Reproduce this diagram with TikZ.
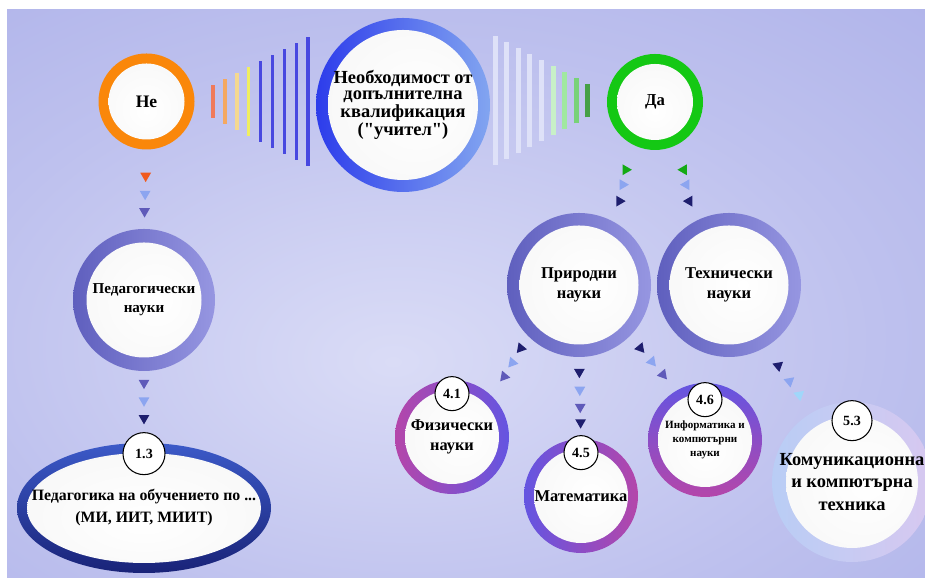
\documentclass[tikz,border=0pt]{standalone}
\usepackage{fontspec}
\setmainfont{Liberation Serif}[Ligatures=TeXOff]
\usepackage{xcolor}
\definecolor{bglight}{RGB}{218, 220, 246}
\definecolor{bgmid}{RGB}{190, 193, 238}
\definecolor{bgdark}{RGB}{158, 163, 229}
\definecolor{inwhite}{RGB}{244, 244, 244}
\definecolor{inshadow}{RGB}{110, 110, 115}
\definecolor{ringorange}{RGB}{250, 135, 10}
\definecolor{ringblue}{RGB}{45, 60, 235}
\definecolor{ringsky}{RGB}{130, 165, 240}
\definecolor{ringgreen}{RGB}{20, 200, 20}
\definecolor{ringslate}{RGB}{95, 95, 190}
\definecolor{ringlav}{RGB}{150, 150, 225}
\definecolor{ringnavy}{RGB}{25, 35, 120}
\definecolor{ringroyal}{RGB}{60, 90, 200}
\definecolor{ringmagenta}{RGB}{180, 70, 170}
\definecolor{ringviolet}{RGB}{100, 85, 225}
\definecolor{ringpale}{RGB}{185, 205, 245}
\definecolor{ringlilac}{RGB}{215, 200, 240}
\definecolor{barsalmon}{RGB}{240, 122, 90}
\definecolor{barorange}{RGB}{244, 168, 96}
\definecolor{barpale}{RGB}{244, 216, 144}
\definecolor{baryellow}{RGB}{240, 238, 96}
\definecolor{barblue}{RGB}{72, 72, 224}
\definecolor{barwhite}{RGB}{222, 225, 248}
\definecolor{barmint}{RGB}{200, 240, 200}
\definecolor{barlgreen}{RGB}{160, 232, 160}
\definecolor{bargreen}{RGB}{120, 210, 120}
\definecolor{bardgreen}{RGB}{70, 160, 70}
\definecolor{triorange}{RGB}{240, 90, 30}
\definecolor{trisky}{RGB}{140, 165, 240}
\definecolor{triviolet}{RGB}{95, 90, 185}
\definecolor{trinavy}{RGB}{30, 30, 110}
\definecolor{trigreen}{RGB}{20, 170, 20}
\definecolor{tricyan}{RGB}{160, 215, 250}
\usepackage{tikz}
\usetikzlibrary{calc, shapes.geometric}

\pgfdeclareradialshading{bgshade}{\pgfpoint{-4bp}{-6bp}}{color(0bp)=(bglight); color(25bp)=(bgmid); color(60bp)=(bgdark); color(80bp)=(bgdark)}
\pgfdeclareradialshading{innershade}{\pgfpoint{0bp}{-5bp}}{color(0bp)=(white); color(40bp)=(inwhite); color(47bp)=(inwhite); color(57bp)=(inshadow); color(60bp)=(inshadow)}

\tikzset{
  ringw/.store in=\ringw, ringw=0.2cm,
  ring/.style={inner sep=0pt, align=center, font=\bfseries,
    path picture={
      \shade[shading=innershade] let \p1=($(path picture bounding box.north east)-(path picture bounding box.center)$) in
        (path picture bounding box.center) ellipse [x radius=\x1-\ringw, y radius=\y1-\ringw];
    }},
  bubble/.style={ring, circle, minimum size=#1},
  oval/.style={ring, ellipse, inner xsep=-0.6cm, minimum width=5.08cm, minimum height=2.6cm},
  badge/.style={circle, draw=black, line width=0.6pt, fill=white, minimum size=#1, inner sep=0pt,
    font=\bfseries\fontsize{8}{8}\selectfont},
  tri/.style={regular polygon, regular polygon sides=3, fill=#1, inner sep=0pt, minimum size=0.25cm}
}

\begin{document}
\begin{tikzpicture}
    \useasboundingbox (0,0) rectangle (18.5,11.56);
    \fill[white] (0,0) rectangle (18.5,11.56);
    \shade[shading=bgshade] (0.14,0) rectangle (18.5,11.36);

    % bars left and right of the question
    \foreach \c [count=\i from 0] in {barsalmon,barorange,barpale,baryellow,barblue,barblue,barblue,barblue,barblue}
        \draw[\c, line width=0.07cm] (4.26+0.238*\i, 9.2-0.12*\i) -- (4.26+0.238*\i, 9.86+0.12*\i);
    \foreach \c [count=\j from 0] in {barwhite,barwhite,barwhite,barwhite,barwhite,barmint,barlgreen,bargreen,bardgreen}
        \draw[\c, line width=0.1cm] (9.9+0.232*\j, 8.25+0.12*\j) -- (9.9+0.232*\j, 10.83-0.12*\j);

    \node[bubble=1.92cm, fill=ringorange, font=\bfseries\fontsize{10}{10}\selectfont] (ne) at (2.93,9.53) {Не};
    \node[bubble=3.48cm, ringw=0.24cm, left color=ringblue, right color=ringsky,
        font=\bfseries\fontsize{10.5}{9}\selectfont] (need) at (8.06,9.46)
        {Необходимост от\\допълнителна\\квалификация\\("учител")};
    \node[bubble=1.92cm, fill=ringgreen, font=\bfseries\fontsize{9.5}{10}\selectfont] (da) at (13.10,9.52) {Да};

    \node[bubble=2.84cm, ringw=0.27cm, left color=ringslate, right color=ringlav,
        font=\bfseries\fontsize{8.6}{10.8}\selectfont] (ped) at (2.88,5.56) {Педагогически\\науки};
    \node[oval, top color=ringroyal, bottom color=ringnavy,
        font=\bfseries\fontsize{9}{12.5}\selectfont] (ped13) at (2.88,1.40)
        {Педагогика на обучението по ...\\(МИ, ИИТ, МИИТ)};

    \node[bubble=2.88cm, ringw=0.25cm, left color=ringslate, right color=ringlav,
        font=\bfseries\fontsize{9.4}{11.3}\selectfont] (prir) at (11.58,5.86) {Природни\\науки};
    \node[bubble=2.88cm, ringw=0.25cm, left color=ringslate, right color=ringlav,
        font=\bfseries\fontsize{9.4}{11.3}\selectfont] (tech) at (14.58,5.86) {Технически\\науки};

    \node[bubble=2.28cm, left color=ringmagenta, right color=ringviolet,
        font=\bfseries\fontsize{9.3}{11.3}\selectfont] (fiz) at (9.04,2.82) {Физически\\науки};
    \node[bubble=2.28cm, left color=ringviolet, right color=ringmagenta,
        font=\bfseries\fontsize{9.4}{11}\selectfont] (mat) at (11.62,1.64) {Математика};
    \node[bubble=2.28cm, top color=ringviolet, bottom color=ringmagenta,
        font=\bfseries\fontsize{6.3}{7.8}\selectfont] (inf) at (14.10,2.76) {Информатика и\\компютърни\\науки};
    \node[bubble=3.2cm, ringw=0.28cm, left color=ringpale, right color=ringlilac,
        font=\bfseries\fontsize{10.5}{13}\selectfont] (kom) at (17.04,1.92) {Комуникационна\\и компютърна\\техника};

    % code badges
    \node[badge=0.84cm] (b13) at ($(ped13.north)+(0,-0.22)$) {1.3};
    \node[badge=0.68cm] (b41) at ($(fiz.north)+(0,-0.28)$) {4.1};
    \node[badge=0.68cm] (b45) at ($(mat.north)+(0,-0.28)$) {4.5};
    \node[badge=0.68cm] (b46) at ($(inf.north)+(0,-0.34)$) {4.6};
    \node[badge=0.8cm] (b53) at ($(kom.north)+(0,-0.38)$) {5.3};

    % dotted arrow trails
    \foreach \p/\c in {0.33/triorange, 0.56/trisky, 0.78/triviolet}
        \node[tri=\c, rotate=180] at ($(ne.south)!\p!(ped.north)$) {};
    \foreach \p/\c in {0.19/triviolet, 0.48/trisky, 0.77/trinavy}
        \node[tri=\c, rotate=180] at ($(ped.south)!\p!(b13.north)$) {};
    \foreach \p/\c in {0.33/trigreen, 0.52/trisky, 0.73/trinavy}
        \node[tri=\c, rotate=-90] at ($(da.240)!\p!(prir.60)$) {};
    \foreach \p/\c in {0.33/trigreen, 0.52/trisky, 0.73/trinavy}
        \node[tri=\c, rotate=90] at ($(da.300)!\p!(tech.120)$) {};
    \foreach \p/\c in {0.2/trinavy, 0.44/trisky, 0.67/triviolet}
        \node[tri=\c, rotate=-100] at ($(prir.225)!\p!(fiz.45)$) {};
    \foreach \p/\c in {0.18/trinavy, 0.4/trisky, 0.61/triviolet, 0.8/trinavy}
        \node[tri=\c, rotate=180] at ($(prir.south)!\p!(mat.north)$) {};
    \foreach \p/\c in {0.22/trinavy, 0.47/trisky, 0.71/triviolet}
        \node[tri=\c, rotate=100] at ($(prir.315)!\p!(inf.120)$) {};
    \foreach \p/\c in {0.28/trinavy, 0.52/trisky, 0.73/tricyan}
        \node[tri=\c, rotate=70] at ($(tech.300)!\p!(kom.120)$) {};
\end{tikzpicture}
\end{document}
